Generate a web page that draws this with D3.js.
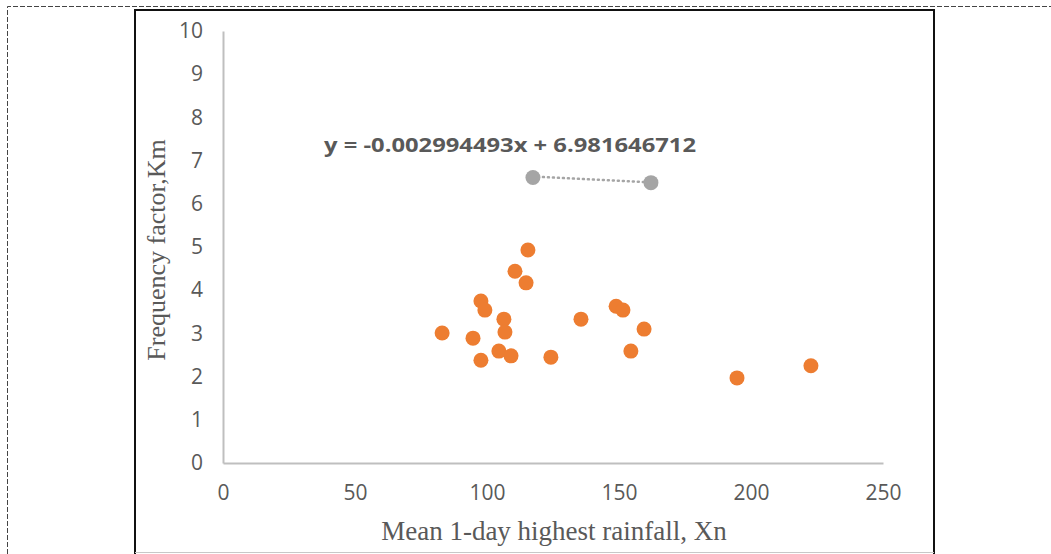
<!DOCTYPE html>
<html>
<head>
<meta charset="utf-8">
<script src="https://cdn.jsdelivr.net/npm/d3@7"></script>
<style>
  body { margin: 0; background: #fff; }
  svg { display: block; }
</style>
</head>
<body>
<script>
// orange series: mean 1-day highest rainfall vs frequency factor
const rainfall = [83.0, 94.7, 97.7, 99.2, 97.7, 104.5, 106.4, 106.8, 109.1, 110.6,
                  114.8, 115.5, 124.2, 135.6, 148.9, 151.5, 154.5, 159.5, 194.7, 222.7];
const freqFactor = [3.01, 2.89, 3.75, 3.54, 2.38, 2.59, 3.33, 3.03, 2.48, 4.44,
                    4.17, 4.93, 2.45, 3.33, 3.63, 3.54, 2.59, 3.10, 1.97, 2.25];

// grey series with its linear trendline
const greyX = [117.4, 162.1];
const greyY = [6.61, 6.49];
const slope = -0.002994493;
const intercept = 6.981646712;
const eqLabel = "y = -0.002994493x + 6.981646712";

const xTicks = [0, 50, 100, 150, 200, 250];
const yTicks = [0, 1, 2, 3, 4, 5, 6, 7, 8, 9, 10];
const xTitle = "Mean 1-day highest rainfall, Xn";
const yTitle = "Frequency factor,Km";

const W = 1051, H = 554;
const svg = d3.select("body").append("svg")
    .attr("width", W)
    .attr("height", H);

// outer dashed frame
svg.append("path")
    .attr("d", `M7.5,${H} L7.5,6.5 L${W},6.5`)
    .attr("fill", "none")
    .attr("stroke", "#444")
    .attr("stroke-width", 1)
    .attr("stroke-dasharray", "5,2");

// chart box
svg.append("path")
    .attr("d", "M135,554 L135,10 L934,10 L934,554")
    .attr("fill", "none")
    .attr("stroke", "#111")
    .attr("stroke-width", 2);
svg.append("line")
    .attr("x1", 135).attr("x2", 934)
    .attr("y1", 552.5).attr("y2", 552.5)
    .attr("stroke", "#c8c8c8");

let x = d3.scaleLinear().domain([0, 250]).range([223, 883]);
let y = d3.scaleLinear().domain([0, 10]).range([463, 31]);

const tickFont = "'Open Sans', 'Liberation Sans', sans-serif";

let xAxis = svg.append("g")
    .attr("transform", `translate(0,${y(0)})`)
    .call(d3.axisBottom(x).tickValues(xTicks).tickSize(0).tickPadding(22));
let yAxis = svg.append("g")
    .attr("transform", `translate(${x(0)},0)`)
    .call(d3.axisLeft(y).tickValues(yTicks).tickSize(0).tickPadding(20));

[xAxis, yAxis].forEach(g => {
    g.select(".domain").attr("stroke", "#bfbfbf").attr("stroke-width", 2);
    g.selectAll("text")
        .attr("fill", "#595959")
        .style("font-family", tickFont)
        .style("font-size", "21px");
});

// axis titles
svg.append("text")
    .attr("x", 554)
    .attr("y", 540)
    .attr("text-anchor", "middle")
    .attr("fill", "#595959")
    .style("font-family", "'Liberation Serif', serif")
    .style("font-size", "27px")
    .text(xTitle);

svg.append("text")
    .attr("transform", "translate(165,250) rotate(-90)")
    .attr("text-anchor", "middle")
    .attr("fill", "#595959")
    .style("font-family", "'Liberation Serif', serif")
    .style("font-size", "26px")
    .text(yTitle);

// trendline between the grey points
const trendX = d3.extent(greyX);
svg.append("line")
    .attr("x1", x(trendX[0])).attr("y1", y(slope * trendX[0] + intercept))
    .attr("x2", x(trendX[1])).attr("y2", y(slope * trendX[1] + intercept))
    .attr("stroke", "#a5a5a5")
    .attr("stroke-width", 2.5)
    .attr("stroke-dasharray", "1,4")
    .attr("stroke-linecap", "round");

svg.append("g").selectAll("circle")
    .data(greyX)
    .join("circle")
    .attr("cx", d => x(d))
    .attr("cy", (d, i) => y(greyY[i]))
    .attr("r", 7.5)
    .attr("fill", "#a5a5a5");

svg.append("g").selectAll("circle")
    .data(rainfall)
    .join("circle")
    .attr("cx", d => x(d))
    .attr("cy", (d, i) => y(freqFactor[i]))
    .attr("r", 7.5)
    .attr("fill", "#ed7d31");

// trendline equation
svg.append("text")
    .attr("x", 324)
    .attr("y", 152)
    .attr("fill", "#595959")
    .attr("textLength", 372)
    .attr("lengthAdjust", "spacingAndGlyphs")
    .style("font-family", tickFont)
    .style("font-weight", "bold")
    .style("font-size", "19px")
    .text(eqLabel);
</script>
</body>
</html>
